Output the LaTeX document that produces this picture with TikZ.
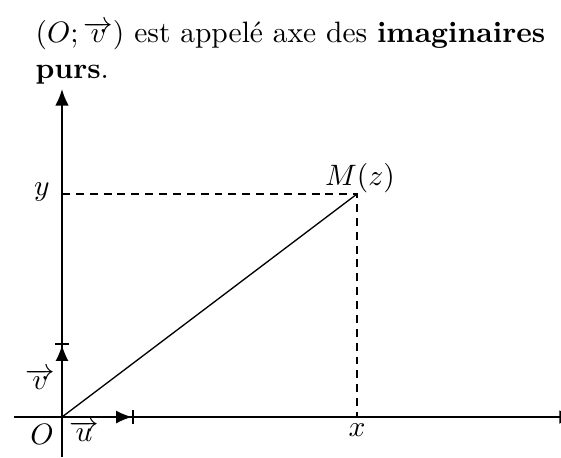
\documentclass[tikz,border=0pt]{standalone}
\usetikzlibrary{arrows.meta}
\begin{document}
\begin{tikzpicture}[x=0.339pt,y=-0.339pt,
  axis/.style={line width=0.65pt},
  vec/.style={line width=0.65pt,-{Latex[length=5.4pt,width=4.4pt]Bar[width=4.8pt]}},
  guide/.style={line width=0.45pt,dash pattern=on 2.7pt off 2pt},
  lbl/.style={inner sep=0pt}]
\useasboundingbox (0,0) rectangle (561,457);
\clip (0,0) rectangle (561,457);
\node[lbl,anchor=base west] (t1) at (35,42) {$(O;\overrightarrow{v})$ est appelé axe des \textbf{imaginaires}};
\node[lbl,anchor=base west] (t2) at (35,78) {\textbf{purs}.};
\coordinate (O) at (62,417);
\coordinate (xl) at (14,417);
\coordinate (xr) at (576,417);
\coordinate (yb) at (62,457);
\coordinate (yt) at (62,89);
\coordinate (U) at (134,417);
\coordinate (V) at (62,343);
\coordinate (M) at (357,194);
\coordinate (Mx) at (357,417);
\coordinate (My) at (62,194);
\draw[axis,-{Latex[length=5.6pt,width=4.6pt]}] (xl) -- (xr);
\draw[axis,-{Latex[length=5.6pt,width=4.6pt]}] (yb) -- (yt);
\draw[vec] (O) -- (U);
\draw[vec] (O) -- (V);
\draw[line width=0.45pt] (O) -- (M);
\draw[guide] (My) -- (M) -- (Mx);
\node[lbl,anchor=base] (Ml) at (360,185) {$M(z)$};
\node[lbl] (yl) at (42,192) {$y$};
\node[lbl] (xlab) at (357,430) {$x$};
\node[lbl] (Ol) at (42,434) {$O$};
\node[lbl] (ul) at (84,431) {$\overrightarrow{u}$};
\node[lbl] (vl) at (40,379) {$\overrightarrow{v}$};
\end{tikzpicture}
\end{document}
